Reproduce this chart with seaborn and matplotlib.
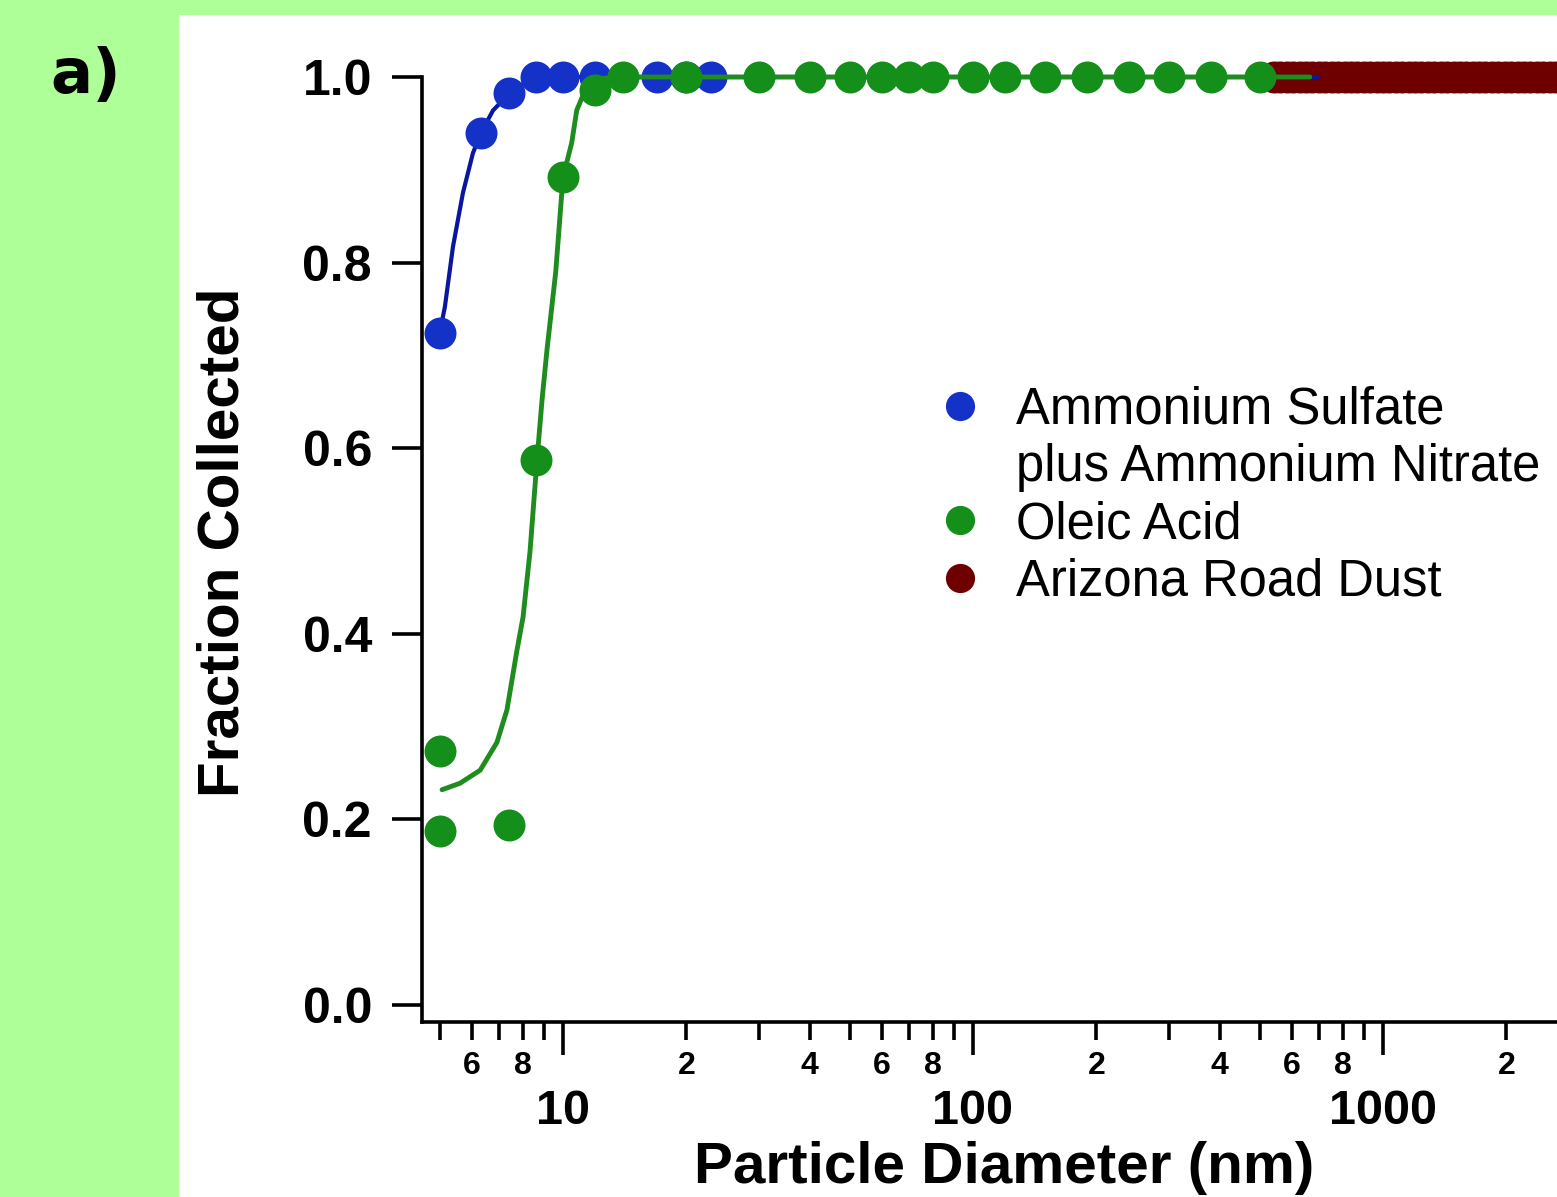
import matplotlib
matplotlib.use("Agg")
import matplotlib.pyplot as plt
import seaborn as sns
from matplotlib.lines import Line2D
from matplotlib.patches import Rectangle
from matplotlib.ticker import FixedLocator, FixedFormatter

# ---------------- data ----------------
as_diam = [5.0, 6.3, 7.4, 8.6, 10.0, 12.0, 17.0, 20.0, 23.0]
as_frac = [0.724, 0.940, 0.983, 1.0, 1.0, 1.0, 1.0, 1.0, 1.0]

as_fit_diam = [5.0, 5.15, 5.39, 5.70, 6.03, 6.31, 6.75, 7.43, 7.85, 8.79, 10.0, 12.0, 693.0]
as_fit_frac = [0.724, 0.752, 0.817, 0.875, 0.918, 0.940, 0.964, 0.983, 0.991, 0.998, 1.0, 1.0, 1.0]

oa_diam = [5.0, 5.0, 7.4, 8.6, 10.0, 12.0, 14, 20, 30, 40, 50, 60, 70, 80,
           100, 120, 150, 190, 240, 300, 380, 500]
oa_frac = [0.274, 0.188, 0.194, 0.587, 0.892, 0.986, 1.0, 1.0, 1.0, 1.0, 1.0, 1.0, 1.0, 1.0,
           1.0, 1.0, 1.0, 1.0, 1.0, 1.0, 1.0, 1.0]

oa_fit_diam = [5.07, 5.61, 6.28, 6.90, 7.30, 7.72, 7.99, 8.31, 8.64, 8.89, 9.14, 9.6,
               10.0, 10.5, 10.8, 11.4, 12.3, 13.4, 663.0]
oa_fit_frac = [0.232, 0.239, 0.253, 0.283, 0.318, 0.382, 0.418, 0.489, 0.587, 0.652, 0.706, 0.79,
               0.892, 0.929, 0.964, 0.989, 0.998, 1.0, 1.0]

ard_diam = [542, 562, 583, 604, 626, 649, 673, 698, 723, 750, 777, 806, 835, 866, 898,
            931, 965, 1000, 1037, 1075, 1114, 1155, 1197, 1241, 1286, 1334, 1382, 1433,
            1486, 1540, 1596, 1655, 1715, 1778, 1843, 1911, 1981, 2054, 2129, 2207, 2288,
            2371, 2458, 2548, 2642, 2738]
ard_frac = [1.0, 1.0, 1.0, 1.0, 1.0, 1.0, 1.0, 1.0, 1.0, 1.0, 1.0, 1.0, 1.0, 1.0, 1.0,
            1.0, 1.0, 1.0, 1.0, 1.0, 1.0, 1.0, 1.0, 1.0, 1.0, 1.0, 1.0, 1.0,
            1.0, 1.0, 1.0, 1.0, 1.0, 1.0, 1.0, 1.0, 1.0, 1.0, 1.0, 1.0, 1.0,
            1.0, 1.0, 1.0, 1.0, 1.0]

legend_labels = ["Ammonium Sulfate", "plus Ammonium Nitrate", "Oleic Acid", "Arizona Road Dust"]

x_major_ticks = [10, 100, 1000]
x_major_labels = ["10", "100", "1000"]
x_minor_ticks = [5, 6, 7, 8, 9, 20, 30, 40, 50, 60, 70, 80, 90,
                 200, 300, 400, 500, 600, 700, 800, 900, 2000]
x_minor_labels = ["", "6", "", "8", "", "2", "", "4", "", "6", "", "8", "",
                  "2", "", "4", "", "6", "", "8", "", "2"]
y_ticks = [0.0, 0.2, 0.4, 0.6, 0.8, 1.0]
y_labels = ["0.0", "0.2", "0.4", "0.6", "0.8", "1.0"]

# ---------------- style ----------------
sns.set_theme(style="white")
plt.rcParams['font.family'] = ['Liberation Sans', 'DejaVu Sans']

BLUE = '#1432C8'
BLUE_LINE = '#0A169E'
GREEN = '#14901A'
GREEN_LINE = '#1E8C1E'
DUST = '#6E0000'

W, H = 1557, 1197
fig = plt.figure(figsize=(W / 100, H / 100), dpi=100, facecolor='#AEFF98')
panel = Rectangle((179 / W, 0), 1 - 179 / W, (H - 15) / H,
                  transform=fig.transFigure, facecolor='white',
                  edgecolor='none', zorder=-10)
fig.patches.append(panel)
ax = fig.add_axes([422 / W, (H - 1022) / H, 1 - 422 / W, (1022 - 77) / H])
ax.set_zorder(1)
ax.set_facecolor('none')

ms = 530
sns.scatterplot(x=ard_diam, y=ard_frac, color=DUST, s=ms, linewidth=0, ax=ax,
                legend=False, zorder=2)
sns.lineplot(x=as_fit_diam, y=as_fit_frac, sort=False, estimator=None, color=BLUE_LINE,
             lw=3, ax=ax, legend=False, zorder=3)
sns.scatterplot(x=as_diam, y=as_frac, color=BLUE, s=ms, linewidth=0, ax=ax,
                legend=False, zorder=4)
sns.lineplot(x=oa_fit_diam, y=oa_fit_frac, sort=False, estimator=None, color=GREEN_LINE,
             lw=3.5, ax=ax, legend=False, zorder=5)
sns.scatterplot(x=oa_diam, y=oa_frac, color=GREEN, s=ms, linewidth=0, ax=ax,
                legend=False, zorder=6)
for c in ax.collections:
    c.set_clip_on(False)
for l in ax.lines:
    l.set_clip_on(False)

ax.set_xscale('log')
ax.set_xlim(4.53, 2657)
ax.set_ylim(-0.0183, 1.0)

ax.xaxis.set_major_locator(FixedLocator(x_major_ticks))
ax.xaxis.set_major_formatter(FixedFormatter(x_major_labels))
ax.xaxis.set_minor_locator(FixedLocator(x_minor_ticks))
ax.xaxis.set_minor_formatter(FixedFormatter(x_minor_labels))
ax.yaxis.set_major_locator(FixedLocator(y_ticks))
ax.yaxis.set_major_formatter(FixedFormatter(y_labels))

ax.tick_params(axis='x', which='major', bottom=True, direction='out', length=24, width=2.6,
               color='black', labelsize=35, pad=24, labelcolor='black')
ax.tick_params(axis='x', which='minor', bottom=True, direction='out', length=13, width=2.6,
               color='black', labelsize=23, pad=8, labelcolor='black')
ax.tick_params(axis='y', which='major', left=True, direction='out', length=21.6, width=2.6,
               color='black', labelsize=36, pad=14.4, labelcolor='black')
for lab in ax.get_xticklabels(which='both') + ax.get_yticklabels():
    lab.set_fontweight('bold')

for s in ['top', 'right']:
    ax.spines[s].set_visible(False)
for s in ['left', 'bottom']:
    ax.spines[s].set_color('black')
    ax.spines[s].set_linewidth(2.6)

ax.set_xlabel("Particle Diameter (nm)", fontsize=42, fontweight='bold', color='black')
ax.set_ylabel("Fraction Collected", fontsize=42, fontweight='bold', color='black')
ax.xaxis.set_label_coords(0.513, -0.126)
ax.yaxis.set_label_coords(-0.151, 0.508)

handles = [
    Line2D([], [], marker='o', ls='none', color=BLUE, markersize=21, markeredgewidth=0),
    Line2D([], [], ls='none'),
    Line2D([], [], marker='o', ls='none', color=GREEN, markersize=21, markeredgewidth=0),
    Line2D([], [], marker='o', ls='none', color=DUST, markersize=21, markeredgewidth=0),
]
leg = ax.legend(handles, legend_labels, loc='upper left',
                bbox_to_anchor=(935 / W, (H - 386) / H), bbox_transform=fig.transFigure,
                frameon=False, fontsize=36.5, handlelength=1.0, handletextpad=0.6,
                labelspacing=0.16, borderpad=0, borderaxespad=0)
for t in leg.get_texts():
    t.set_color('black')

fig.text(86 / W, 1 - 76 / H, "a)", ha='center', va='center', fontsize=45,
         fontweight='bold', color='black', family=['DejaVu Sans'])

fig.savefig('out.png', dpi=100, facecolor=fig.get_facecolor())
